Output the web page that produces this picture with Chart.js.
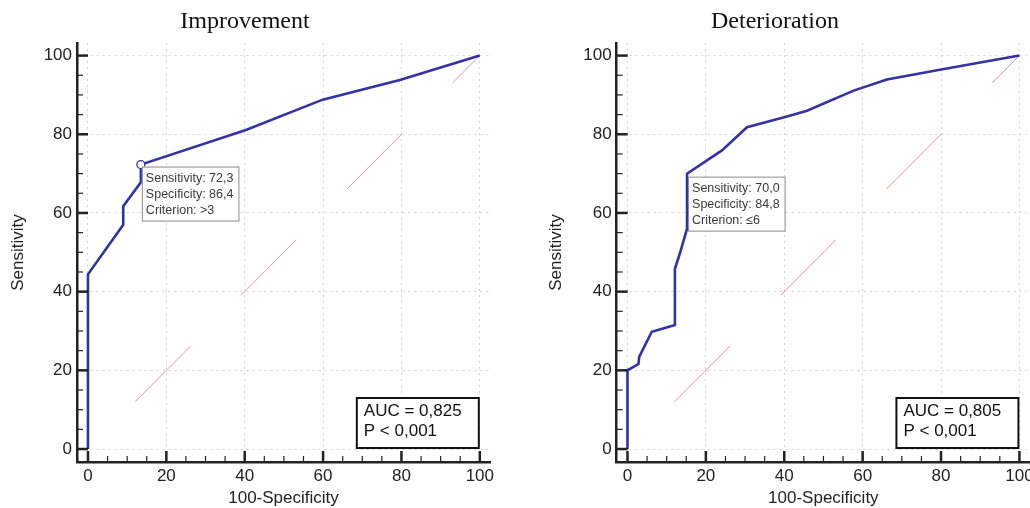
<!DOCTYPE html>
<html>
<head>
<meta charset="utf-8">
<script src="https://cdn.jsdelivr.net/npm/chart.js@4.4.0/dist/chart.umd.min.js"></script>
<style>
html, body { margin:0; padding:0; width:1030px; height:508px; overflow:hidden; background:#fff; }
canvas { position:absolute; top:0; }
#roc1 { left:0; }
#roc2 { left:520px; }
</style>
</head>
<body>
<canvas id="roc1" width="540" height="508"></canvas>
<canvas id="roc2" width="600" height="508"></canvas>
<script>
// ---- data ----
var majorTicks = [0, 20, 40, 60, 80, 100];
var minorTicks = [0, 5, 10, 15, 20, 25, 30, 35, 40, 45, 50, 55, 60, 65, 70, 75, 80, 85, 90, 95, 100];

var diagX = [0, 100];
var diagY = [0, 100];

// Improvement
var impTitle = "Improvement";
var impFpr = [0, 0, 9, 9, 13.5, 13.5, 40.3, 59.9, 79.6, 100];
var impTpr = [0, 44.4, 57, 61.7, 67.8, 72.3, 81.1, 88.8, 93.8, 100];
var impCut = [13.5, 72.3];
var impNote = ["Sensitivity: 72,3", "Specificity: 86,4", "Criterion: >3"];
var impAuc = ["AUC = 0,825", "P < 0,001"];

// Deterioration
var detTitle = "Deterioration";
var detFpr = [0, 0, 2.8, 3, 6.2, 12.1, 12.1, 13.3, 15.2, 15.2, 24.1, 30.5, 40.7, 45.8, 57.7, 66.2, 79.7, 100];
var detTpr = [0, 20, 21.6, 23.5, 29.8, 31.5, 45.8, 49.5, 56, 70, 75.9, 81.8, 84.5, 86, 91.1, 93.9, 96.4, 100];
var detCut = [15.2, 70];
var detNote = ["Sensitivity: 70,0", "Specificity: 84,8", "Criterion: \u22646"];
var detAuc = ["AUC = 0,805", "P < 0,001"];

function pts(xs, ys){
	return xs.map(function(v, i){ return {x: v, y: ys[i]}; });
}

// 안쪽으로 향한 눈금, 기준점 설명 박스, AUC 박스
var rocExtras = {
	id : 'rocExtras',
	afterDraw : function(chart, args, o){
		var ctx = chart.ctx,
			xs = chart.scales.x,
			ys = chart.scales.y,
			a = chart.chartArea;

		ctx.save();
		ctx.strokeStyle = '#222';
		minorTicks.forEach(function(v){
			var major = majorTicks.indexOf(v) >= 0,
				len = major ? 11 : 6,
				px = xs.getPixelForValue(v),
				py = ys.getPixelForValue(v);
			ctx.lineWidth = major ? 2.5 : 1.2;
			ctx.beginPath(); ctx.moveTo(px, a.bottom); ctx.lineTo(px, a.bottom - len); ctx.stroke();
			ctx.beginPath(); ctx.moveTo(a.left, py); ctx.lineTo(a.left + len, py); ctx.stroke();
		});

		// criterion note
		var cx = xs.getPixelForValue(o.cut[0]) + o.noteDx,
			cy = ys.getPixelForValue(o.cut[1]) + o.noteDy,
			w = 0, i;
		ctx.font = '12.5px "Liberation Sans", Arial, sans-serif';
		for(i=0; i<o.note.length; i++){ w = Math.max(w, ctx.measureText(o.note[i]).width); }
		ctx.fillStyle = '#fff';
		ctx.fillRect(cx, cy, w + 9, 54);
		ctx.lineWidth = 1;
		ctx.strokeStyle = '#8a8a8a';
		ctx.strokeRect(cx + 0.5, cy + 0.5, w + 9, 54);
		ctx.fillStyle = '#3a3a3a';
		ctx.textBaseline = 'middle';
		for(i=0; i<o.note.length; i++){ ctx.fillText(o.note[i], cx + 4, cy + 11.5 + i*16); }

		// AUC box
		var bx = xs.getPixelForValue(100) - 1 - 122,
			by = ys.getPixelForValue(0) - 1 - 50;
		ctx.fillStyle = '#fff';
		ctx.fillRect(bx, by, 122, 50);
		ctx.lineWidth = 2;
		ctx.strokeStyle = '#111';
		ctx.strokeRect(bx, by, 122, 50);
		ctx.fillStyle = '#111';
		ctx.font = '17px "Liberation Sans", Arial, sans-serif';
		ctx.fillText(o.auc[0], bx + 7, by + 13);
		ctx.fillText(o.auc[1], bx + 7, by + 33);
		ctx.restore();
	}
};

function rocChart(id, cfg){
	var datasets = [
		{ data: pts(cfg.fpr, cfg.tpr), showLine: true, borderColor: '#3232a6', borderWidth: 2.6,
		  pointRadius: 0, tension: 0, order: 1 },
		{ data: pts(diagX, diagY), showLine: true, borderColor: 'rgba(222,140,150,0.9)', borderWidth: 1,
		  borderDash: [78, 72], borderDashOffset: 83, pointRadius: 0, order: 3 }
	];
	if(cfg.marker){
		datasets.push({ data: pts([cfg.cut[0]], [cfg.cut[1]]), pointRadius: 4, pointBackgroundColor: '#fff',
			pointBorderColor: '#3232a6', pointBorderWidth: 1.3, order: 0 });
	}
	var tickFont = { family: '"Liberation Sans", Arial, sans-serif', size: 17 };

	return new Chart(document.getElementById(id), {
		type: 'scatter',
		data: { datasets: datasets },
		plugins: [rocExtras],
		options: {
			responsive: false,
			animation: false,
			devicePixelRatio: 1,
			layout: { padding: { left: 0, right: cfg.padRight, top: 0, bottom: 0 } },
			plugins: {
				legend: { display: false },
				tooltip: { enabled: false },
				title: {
					display: true, text: cfg.title, color: '#111',
					font: { family: '"Liberation Serif", "Times New Roman", serif', size: 24, weight: 'normal', lineHeight: 1.2 },
					padding: { top: 7.6, bottom: 6.6 }
				},
				rocExtras: { cut: cfg.cut, note: cfg.note, auc: cfg.auc, noteDx: cfg.noteDx, noteDy: cfg.noteDy }
			},
			scales: {
				x: {
					type: 'linear', min: cfg.xMin, max: cfg.xMax,
					afterBuildTicks: function(s){ s.ticks = majorTicks.map(function(v){ return {value: v}; }); },
					afterFit: function(s){ s.height = 46; },
					grid: { color: '#d4d4d4', lineWidth: 1, drawTicks: false },
					border: { display: true, color: '#222', width: 2.5, dash: [2, 4] },
					ticks: { color: '#222', font: tickFont, padding: 4, maxRotation: 0 },
					title: { display: true, text: '100-Specificity', color: '#222', font: { family: tickFont.family, size: 17, lineHeight: 1 },
						padding: { top: 0, bottom: 1 } }
				},
				y: {
					type: 'linear', min: -3.3, max: 103.2,
					afterBuildTicks: function(s){ s.ticks = majorTicks.map(function(v){ return {value: v}; }); },
					afterFit: function(s){ s.width = cfg.yWidth; },
					grid: { color: '#d4d4d4', lineWidth: 1, drawTicks: false },
					border: { display: true, color: '#222', width: 2.5, dash: [2, 4] },
					ticks: { color: '#222', font: tickFont, padding: 5 },
					title: { display: true, text: 'Sensitivity', color: '#222', font: { family: tickFont.family, size: 17, lineHeight: 1 },
						padding: { top: cfg.yTitlePad, bottom: 0 } }
				}
			}
		}
	});
}

rocChart('roc1', {
	title: impTitle, fpr: impFpr, tpr: impTpr, cut: impCut, note: impNote, auc: impAuc, marker: true,
	xMin: -2.8, xMax: 102.6, yWidth: 77, yTitlePad: 9.5, padRight: 50, noteDx: 1, noteDy: 2
});
rocChart('roc2', {
	title: detTitle, fpr: detFpr, tpr: detTpr, cut: detCut, note: detNote, auc: detAuc, marker: false,
	xMin: -2.75, xMax: 102.7, yWidth: 96.7, yTitlePad: 28.2, padRight: 90, noteDx: 1, noteDy: 3
});
</script>
</body>
</html>
